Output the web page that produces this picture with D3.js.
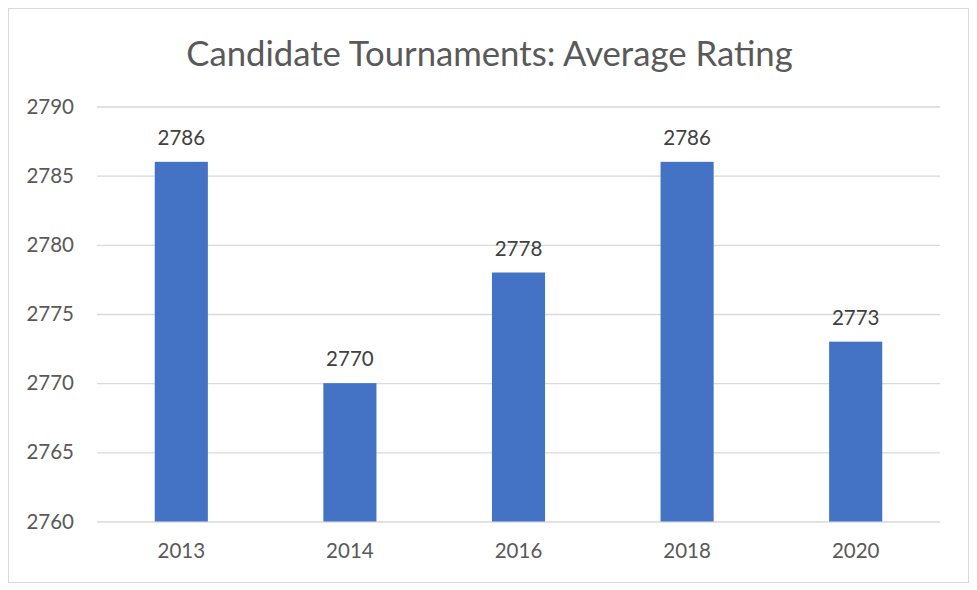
<!DOCTYPE html>
<html><head><meta charset="utf-8">
<script src="https://cdn.jsdelivr.net/npm/d3@7"></script>
<style>body{margin:0;background:#fff;}svg{display:block;}</style>
</head><body>
<script>
const categories = ["2013", "2014", "2016", "2018", "2020"];
const values = [2786, 2770, 2778, 2786, 2773];
const yTicks = [2760, 2765, 2770, 2775, 2780, 2785, 2790];
const title = "Candidate Tournaments: Average Rating";

(function () {
const W = 977, H = 590;
const font = "Lato, 'Open Sans', sans-serif";
const svg = d3.select("body").append("svg").attr("width", W).attr("height", H);

svg.append("rect").attr("x", 8.5).attr("y", 8.5).attr("width", 960).attr("height", 574)
  .attr("fill", "#fff").attr("stroke", "#d9d9d9").attr("stroke-width", 1);

const mLeft = 97, mRight = 940, mTop = 106.5, mBottom = 521.5;
const x = d3.scaleBand().domain(categories).range([mLeft, mRight]).paddingInner(0.685).paddingOuter(0.3425);
const y = d3.scaleLinear().domain([2760, 2790]).range([mBottom, mTop]);

svg.append("text").attr("x", 489.5).attr("y", 65.5).attr("text-anchor", "middle")
  .attr("font-family", font).attr("font-size", 34.7).attr("fill", "#595959").text(title);

const yAxis = d3.axisLeft(y).tickValues(yTicks).tickSize(-(mRight - mLeft)).tickPadding(23).tickFormat(d3.format("d"));
const gy = svg.append("g").attr("transform", `translate(${mLeft},0)`).call(yAxis);
gy.select(".domain").remove();
gy.selectAll(".tick line").attr("stroke", "#d9d9d9").attr("stroke-width", 1.3);
gy.selectAll(".tick text").attr("font-family", font).attr("font-size", 20.5).attr("fill", "#595959");

svg.append("g").selectAll("rect").data(values).join("rect")
  .attr("x", (d, i) => x(categories[i])).attr("width", x.bandwidth())
  .attr("y", d => y(d)).attr("height", d => y(2760) - y(d)).attr("fill", "#4472c4");

svg.append("g").selectAll("text").data(values).join("text")
  .attr("x", (d, i) => x(categories[i]) + x.bandwidth() / 2).attr("y", d => y(d) - 17)
  .attr("text-anchor", "middle").attr("font-family", font).attr("font-size", 20.5).attr("fill", "#404040")
  .text(d => d);

const xAxis = d3.axisBottom(x).tickSize(0).tickPadding(22);
const gx = svg.append("g").attr("transform", `translate(0,${mBottom})`).call(xAxis);
gx.select(".domain").remove();
gx.selectAll(".tick text").attr("font-family", font).attr("font-size", 20.5).attr("fill", "#595959");
})();
</script>
</body></html>
